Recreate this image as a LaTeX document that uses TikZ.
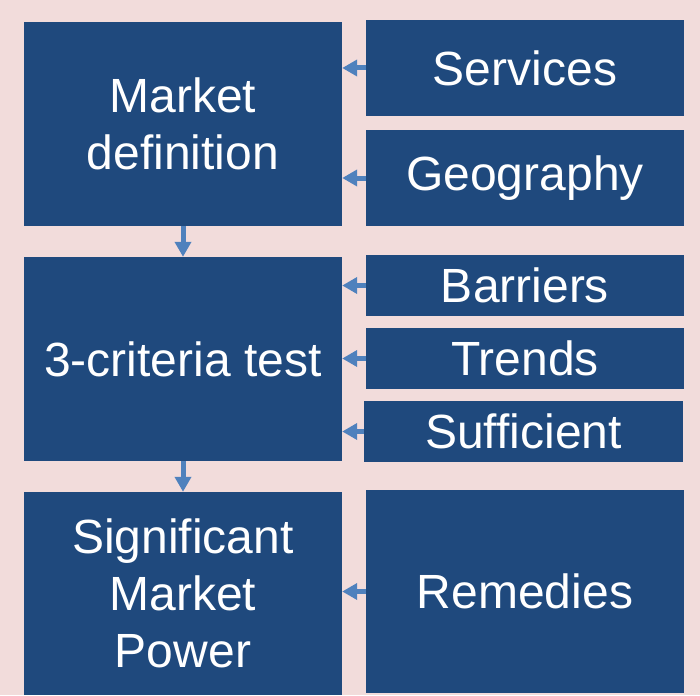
\documentclass[tikz,border=0pt]{standalone}
\usepackage{fontspec}
\setmainfont{Liberation Sans}
\usetikzlibrary{arrows.meta, positioning}
\definecolor{boxblue}{RGB}{31,73,125}
\definecolor{bgpink}{RGB}{242,220,219}
\definecolor{arrowblue}{RGB}{79,129,189}

\begin{document}
\begin{tikzpicture}[x=1pt, y=-1pt,
		stage/.style={fill=boxblue, text=white, align=center, inner sep=0pt, minimum width=318pt, font=\fontsize{48}{57}\selectfont},
		feed/.style={draw=arrowblue, line width=5pt, -{Triangle[length=15pt, width=16pt]}}]
		\fill[bgpink] (0,0) rectangle (700,695);
		\useasboundingbox (0,0) rectangle (700,695);

		% left column
		\node[stage, minimum height=204pt] (mkt) at (183,124) {Market\\definition};
		\node[stage, minimum height=204pt] (crit) at (183,359) {3-criteria test};
		\node[stage, minimum height=203pt] (smp) at (183,593.5) {Significant\\Market\\Power};

		% right column
		\node[stage, minimum height=96pt] (services) at (525,68) {Services};
		\node[stage, minimum height=96pt] (geo) at (525,178) {Geography};
		\node[stage, minimum height=61pt] (barriers) at (525,285.5) {Barriers};
		\node[stage, minimum height=61pt] (trends) at (525,358.5) {Trends};
		\node[stage, minimum height=61pt, minimum width=319pt] (suff) at (523.5,431.5) {Sufficient};
		\node[stage, minimum height=203pt] (remedies) at (525,591.5) {Remedies};

		\draw[feed] (mkt) -- (crit);
		\draw[feed] (crit) -- (smp);

		\draw[feed] (services.west) -- (services.west -| mkt.east);
		\draw[feed] (geo.west) -- (geo.west -| mkt.east);
		\draw[feed] (barriers.west) -- (barriers.west -| crit.east);
		\draw[feed] (trends.west) -- (trends.west -| crit.east);
		\draw[feed] (suff.west) -- (suff.west -| crit.east);
		\draw[feed] (remedies.west) -- (remedies.west -| smp.east);

	\end{tikzpicture}
\end{document}
